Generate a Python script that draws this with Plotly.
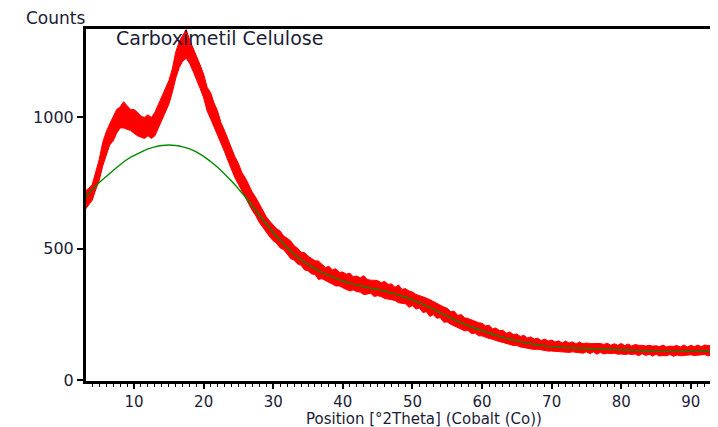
import plotly.graph_objects as go

# 2-theta sampling of the measured pattern (deg)
two_theta_start = 3.0
two_theta_step = 0.5

counts_center = [
    685, 700, 715, 760, 800, 860, 900, 935, 955, 985,
    1000, 1010, 1000, 990, 985, 975, 965, 960, 970, 960,
    975, 1005, 1040, 1070, 1095, 1140, 1200, 1240, 1265, 1280,
    1250, 1220, 1190, 1155, 1120, 1070, 1045, 1010, 980, 940,
    910, 875, 840, 810, 785, 755, 730, 705, 680, 660,
    635, 612, 592, 575, 560,
    548, 535, 522, 510, 496, 484, 472, 462, 452, 444,
    434, 428, 418, 414, 404, 402, 392, 391, 384, 381,
    374, 373, 368, 366, 362, 361, 355, 355, 349, 350,
    344, 343, 336, 336, 328, 328, 318, 319, 308, 309,
    298, 298, 287, 286, 274, 274, 262, 260, 249, 247,
    236, 234, 224, 222, 212, 211, 202, 201, 193, 192,
    184, 183, 175, 174, 167, 166, 159, 159, 152, 153,
    146, 147, 141, 142, 136, 138, 132, 134, 129, 131,
    127, 129, 124, 127, 123, 126, 121, 125, 120, 124,
    119, 123, 118, 122, 117, 121, 116, 120, 115, 119,
    114, 118, 113, 117, 112, 116, 111, 115, 110, 114,
    109, 113, 109, 113, 109, 113, 109, 113, 110, 114,
    110, 114, 111, 115, 111, 115, 112, 116,
]

# half height of the noisy red band (counts)
counts_spread = [
    35, 30, 30, 35, 40, 45, 45, 40, 45, 45,
    40, 50, 45, 40, 45, 45, 40, 40, 40, 40,
    45, 45, 45, 45, 45, 45, 50, 50, 50, 55,
    45, 45, 45, 45, 45, 45, 50, 45, 45, 40,
    40, 40, 40, 40, 40, 35, 40, 35, 35, 35,
    35, 30, 30, 30, 30,
    28, 32, 26, 30, 34, 27, 30, 25, 33, 28, 30, 26, 35, 28, 24, 31, 27, 33, 26, 30,
    29, 34, 25, 30, 27, 36, 28, 25, 31, 29, 26, 33, 28, 30, 25, 34, 27, 29, 31, 26,
    28, 24, 30, 26, 32, 25, 27, 23, 29, 26, 24, 28, 22, 27, 25, 23, 26, 22, 25, 24,
    22, 25, 20, 24, 21, 23, 19, 24, 21, 22, 20, 23, 19, 22, 20, 21, 18, 22, 19, 21,
    18, 20, 17, 21, 18, 19, 16, 20, 18, 17, 19, 16, 20, 17, 18, 19, 16, 18, 17, 20,
    17, 19, 16, 18, 20, 16, 18, 17, 19, 16, 18, 20, 17, 16, 19, 18, 17, 20, 16, 18,
    17, 19, 16, 18, 20, 17, 18, 19,
]

# fitted background (green)
bg_two_theta = list(range(3, 95))
bg_counts = [
    695, 725, 752, 775, 798, 820, 840, 855, 868, 880,
    888, 893, 895, 893, 888, 880, 868, 852, 832, 810,
    785, 758, 728, 697, 663, 628, 594, 562, 532, 505,
    480, 458, 440, 424, 410, 398, 387, 377, 369, 362,
    356, 350, 345, 339, 332, 324, 315, 305, 294, 282,
    270, 256, 243, 230, 218, 207, 197, 188, 179, 170,
    162, 155, 149, 143, 138, 134, 130, 127, 125, 123,
    122, 121, 120, 119, 118, 117, 116, 115, 114, 113,
    112, 111, 110, 109, 109, 109, 109, 110, 110, 111,
    111, 112,
]

x_ticks = [10, 20, 30, 40, 50, 60, 70, 80, 90]
y_ticks = [0, 500, 1000]

n = len(counts_center)
two_theta = [two_theta_start + two_theta_step * i for i in range(n)]
upper = [c + s for c, s in zip(counts_center, counts_spread)]
lower = [c - s for c, s in zip(counts_center, counts_spread)]

RED = "#ff0000"
GREEN = "#008a00"
TXT = "#1c1c38"
FONT = "DejaVu Sans"

fig = go.Figure()
fig.add_trace(go.Scatter(x=two_theta, y=lower, mode="lines",
                         line=dict(color=RED, width=1), hoverinfo="skip"))
fig.add_trace(go.Scatter(x=two_theta, y=upper, mode="lines", fill="tonexty",
                         fillcolor=RED, line=dict(color=RED, width=1)))
fig.add_trace(go.Scatter(x=bg_two_theta, y=bg_counts, mode="lines",
                         line=dict(color=GREEN, width=1.4, shape="spline")))

fig.update_layout(
    width=718, height=427,
    margin=dict(l=78, r=0, t=21, b=54),
    paper_bgcolor="white", plot_bgcolor="white",
    showlegend=False,
    font=dict(family=FONT, size=15, color=TXT),
    xaxis=dict(range=[3.1, 95.05], tickvals=x_ticks, showgrid=False, zeroline=False,
               showline=True, linecolor="black", linewidth=3, mirror=True,
               ticks="outside", ticklen=5, tickwidth=1.5, tickcolor="black",
               minor=dict(dtick=1, ticks="outside", ticklen=3, tickwidth=1.2,
                          tickcolor="black", showgrid=False),
               tickfont=dict(family=FONT, size=15, color=TXT)),
    yaxis=dict(range=[-4, 1337], tickvals=y_ticks, showgrid=False, zeroline=False,
               showline=True, linecolor="black", linewidth=3,
               ticks="outside", ticklen=6, tickwidth=1.5, tickcolor="black",
               tickfont=dict(family=FONT, size=16, color=TXT)),
    annotations=[
        dict(text="Counts", xref="paper", yref="paper", x=-0.0484, y=1.031,
             xanchor="center", yanchor="middle", showarrow=False,
             font=dict(family=FONT, size=17, color=TXT)),
        dict(text="Carboximetil Celulose", xref="paper", yref="paper", x=0.208, y=0.974,
             xanchor="center", yanchor="middle", showarrow=False,
             font=dict(family=FONT, size=19, color=TXT)),
        dict(text="Position [°2Theta] (Cobalt (Co))", xref="paper", yref="paper",
             x=0.528, y=-0.108, xanchor="center", yanchor="middle", showarrow=False,
             font=dict(family=FONT, size=15, color=TXT)),
    ],
)

fig.write_html("out.html")
